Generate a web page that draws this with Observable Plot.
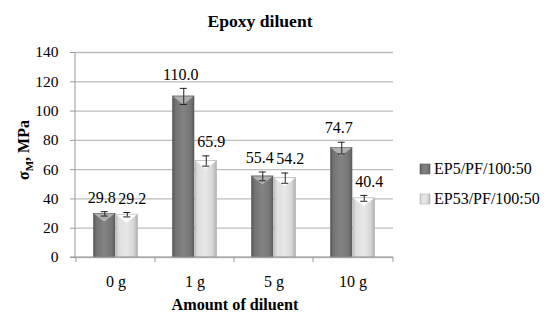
<!DOCTYPE html>
<html><head><meta charset="utf-8">
<script src="https://cdn.jsdelivr.net/npm/d3@7"></script>
<script src="https://cdn.jsdelivr.net/npm/@observablehq/plot@0.6"></script>
<style>
body{margin:0;background:#fff}
#chart{width:550px;height:321px}
#chart svg text{font-family:"Liberation Serif","DejaVu Serif",serif}
</style>
</head><body><div id="chart"></div>
<script>
const categories = ["0 g", "1 g", "5 g", "10 g"];
const seriesNames = ["EP5/PF/100:50", "EP53/PF/100:50"];
const ep5 = [29.8, 110.0, 55.4, 74.7];
const ep53 = [29.2, 65.9, 54.2, 40.4];
const ep5Err = [1.5, 5.5, 3.0, 4.0];
const ep53Err = [1.5, 3.5, 3.5, 2.0];
const yTicks = [0, 20, 40, 60, 80, 100, 120, 140];
const title = "Epoxy diluent";
const xTitle = "Amount of diluent";

const dark = categories.map((c, i) => ({cat: c, series: seriesNames[0], value: ep5[i], err: ep5Err[i]}));
const light = categories.map((c, i) => ({cat: c, series: seriesNames[1], value: ep53[i], err: ep53Err[i]}));

const FONT = "Liberation Serif";
const off = 11.25;
const insetNear = 17.5, insetFar = 40;

function errMarks(data, dx) {
  return [
    Plot.ruleX(data, {x: "cat", y1: d => d.value - d.err, y2: d => d.value + d.err, dx, stroke: "#222", strokeWidth: 1}),
    Plot.tickY(data, {x: "cat", y: d => d.value + d.err, dx, insetLeft: 36, insetRight: 36, stroke: "#222", strokeWidth: 1}),
    Plot.tickY(data, {x: "cat", y: d => d.value - d.err, dx, insetLeft: 36, insetRight: 36, stroke: "#222", strokeWidth: 1}),
  ];
}

const plot = Plot.plot({
  width: 550, height: 321,
  marginLeft: 75, marginRight: 157, marginTop: 52, marginBottom: 64,
  style: {fontFamily: FONT, fontSize: "15px", background: "white", color: "#000", overflow: "visible"},
  x: {domain: categories, padding: 0, axis: null},
  y: {domain: [0, 140], axis: null},
  marks: [
    Plot.gridY(yTicks, {stroke: "#bdbdbd", strokeOpacity: 1, strokeWidth: 1.3}),
    Plot.axisY(yTicks, {tickSize: 5, tickPadding: 12, stroke: "#999", fontSize: 15.5, fontFamily: FONT, label: null, tickFormat: d => String(d)}),
    Plot.axisX(categories, {tickSize: 0, tickPadding: 18, fontSize: 16, fontFamily: FONT, label: null}),
    Plot.barY(dark, {x: "cat", y: "value", fill: "url(#gDark)", insetLeft: insetNear, insetRight: insetFar, stroke: "#5a5a5a", strokeWidth: 0.6}),
    Plot.barY(light, {x: "cat", y: "value", fill: "url(#gLight)", insetLeft: insetFar, insetRight: insetNear, stroke: "#b0b0b0", strokeWidth: 0.6}),
    ...errMarks(dark, -off),
    ...errMarks(light, off),
    Plot.text(dark, {x: "cat", y: d => d.value + d.err, dx: -off - 3, dy: -14, text: d => d.value.toFixed(1), fontSize: 16, fontFamily: FONT, fill: "#000"}),
    Plot.text(light, {x: "cat", y: d => d.value + d.err, dx: off + 5, dy: -14, text: d => d.value.toFixed(1), fontSize: 16, fontFamily: FONT, fill: "#000"}),
  ]
});

document.getElementById("chart").appendChild(plot);

const svg = d3.select(plot);
const defs = svg.insert("defs", ":first-child");
function grad(id, stops) {
  const g = defs.append("linearGradient").attr("id", id).attr("x1", "0").attr("x2", "1").attr("y1", "0").attr("y2", "0");
  stops.forEach(([o, c]) => g.append("stop").attr("offset", o).attr("stop-color", c));
}
grad("gDark", [[0, "#585858"], [0.15, "#747474"], [0.5, "#838383"], [0.85, "#747474"], [1, "#5c5c5c"]]);
grad("gLight", [[0, "#c6c6c6"], [0.15, "#dfdfdf"], [0.5, "#e8e8e8"], [0.82, "#d6d6d6"], [1, "#b0b0b0"]]);

const xs = plot.scale("x"), ys = plot.scale("y");
const x0 = xs.range[0], x1 = xs.range[1];
const yb = ys.apply(0), yt = ys.apply(140);
const bw = xs.bandwidth;

// bevel triangles at the top of each bar, positioned from the plot's scales
const bevel = svg.append("g");
[[dark, insetNear, insetFar, "#b0b0b0"], [light, insetFar, insetNear, "#ffffff"]].forEach(([data, il, ir, col]) => {
  data.forEach(d => {
    const a = xs.apply(d.cat) + il + 0.5, b = xs.apply(d.cat) + bw - ir - 0.5, top = ys.apply(d.value) + 0.5;
    bevel.append("path").attr("d", `M${a},${top}L${b},${top}L${(a + b) / 2},${top + 8}Z`).attr("fill", col);
  });
});
svg.selectAll("g[aria-label='rule'], g[aria-label='tick'], g[aria-label='text']").raise();

svg.append("line").attr("x1", x0).attr("x2", x0).attr("y1", yt).attr("y2", yb).attr("stroke", "#999");
svg.append("line").attr("x1", x0 - 5).attr("x2", x1).attr("y1", yb).attr("y2", yb).attr("stroke", "#999");
categories.forEach(c => {
  const x = xs.apply(c);
  svg.append("line").attr("x1", x).attr("x2", x).attr("y1", yb).attr("y2", yb + 5).attr("stroke", "#999");
});
svg.append("line").attr("x1", x1).attr("x2", x1).attr("y1", yb).attr("y2", yb + 5).attr("stroke", "#999");

function txt(x, y, size, bold, anchor) {
  return svg.append("text").attr("x", x).attr("y", y)
    .style("font-family", "'Liberation Serif', serif").style("font-size", size + "px")
    .style("font-weight", bold ? "bold" : "normal").style("text-anchor", anchor).attr("fill", "#000");
}

txt(260, 27, 17.6, true, "middle").text(title);
txt(235, 310, 16.2, true, "middle").text(xTitle);

const yl = svg.append("text").attr("transform", "translate(29,150) rotate(-90)")
  .style("font-family", "'Liberation Serif', serif").style("font-size", "16px").style("font-weight", "bold").style("text-anchor", "middle").attr("fill", "#000");
yl.append("tspan").text("σ");
yl.append("tspan").style("font-size", "11px").attr("dy", 4).text("M");
yl.append("tspan").attr("dy", -4).text(", MPa");

const legendFill = ["url(#gDark)", "url(#gLight)"];
seriesNames.forEach((s, i) => {
  const y = 169 + i * 30;
  svg.append("rect").attr("x", 420).attr("y", y - 5).attr("width", 10).attr("height", 10)
    .attr("fill", legendFill[i]).attr("stroke", i ? "#b0b0b0" : "#5a5a5a").attr("stroke-width", 0.6);
  txt(434, y + 5, 16, false, "start").text(s);
});
</script>
</body></html>
